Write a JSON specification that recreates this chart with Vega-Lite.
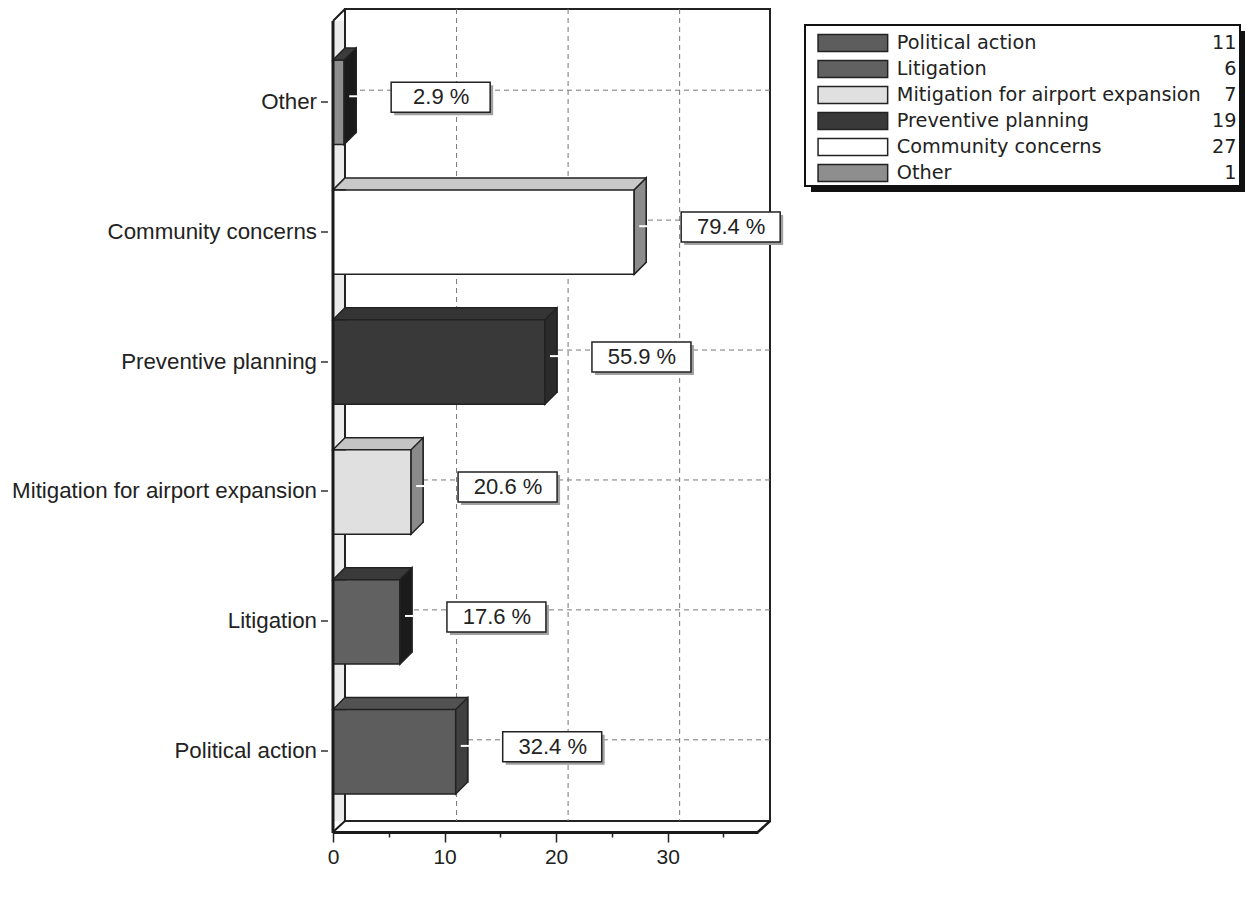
{
  "$schema": "https://vega.github.io/schema/vega-lite/v6.json",
  "background": "white",
  "padding": {"left": 0, "top": 4, "right": 0, "bottom": 0},
  "spacing": 20,
  "datasets": {
    "items": [
      {"category": "Political action", "count": 11, "pct": "32.4 %"},
      {"category": "Litigation", "count": 6, "pct": "17.6 %"},
      {"category": "Mitigation for airport expansion", "count": 7, "pct": "20.6 %"},
      {"category": "Preventive planning", "count": 19, "pct": "55.9 %"},
      {"category": "Community concerns", "count": 27, "pct": "79.4 %"},
      {"category": "Other", "count": 1, "pct": "2.9 %"}
    ]
  },
  "resolve": {"scale": {"x": "independent", "y": "independent", "fill": "independent"}},
  "config": {"view": {"stroke": null}, "font": "Liberation Sans"},
  "hconcat": [
    {
      "width": 425,
      "height": 812,
      "data": {"name": "items"},
      "resolve": {"scale": {"fill": "independent"}},
      "layer": [
        {
          "data": {"values": [{}]},
          "mark": {"type": "rect", "fill": "#ebebeb", "x2Offset": 12, "yOffset": 12, "opacity": 1},
          "encoding": {
            "x": {"datum": 0, "type": "quantitative", "scale": {"domain": [0, 38.1], "nice": false, "zero": true},
              "axis": {
                "values": [0, 2.5, 5, 7.5, 10, 12.5, 15, 17.5, 20, 22.5, 25, 27.5, 30, 32.5, 35, 37.5],
                "labelExpr": "datum.value % 10 === 0 ? datum.label : ''",
                "labelFlush": false,
                "tickSize": {"condition": {"test": "datum.value % 10 === 0", "value": 10}, "value": 5},
                "tickColor": "#222", "tickWidth": 1.5,
                "domainColor": "#1a1a1a", "domainWidth": 3, "offset": 11,
                "labelFontSize": 21, "labelColor": "#222", "labelFont": "Liberation Sans",
                "labelPadding": 4, "grid": false, "title": null, "zindex": 1
              }
            },
            "x2": {"datum": 0}
          }
        },
        {
          "data": {"values": [{}]},
          "mark": {"type": "rect", "fill": "white", "stroke": "#222", "strokeWidth": 2, "xOffset": 12, "x2Offset": 12, "opacity": 1},
          "encoding": {
            "x": {"datum": 0, "type": "quantitative"},
            "x2": {"datum": 38.1}
          }
        },
        {
          "data": {"values": [{"t": 10}, {"t": 20}, {"t": 30}]},
          "mark": {"type": "rule", "stroke": "#777", "strokeDash": [5, 4], "strokeWidth": 1, "xOffset": 12},
          "encoding": {
            "x": {"field": "t", "type": "quantitative", "title": null}
          }
        },
        {
          "mark": {"type": "rule", "stroke": "#777", "strokeDash": [5, 4], "strokeWidth": 1, "xOffset": 12, "x2Offset": 12},
          "encoding": {
            "y": {"field": "category", "type": "nominal", "title": null,
              "sort": ["Other", "Community concerns", "Preventive planning", "Mitigation for airport expansion", "Litigation", "Political action"],
              "scale": {"paddingInner": 0.35, "paddingOuter": 0.3},
              "axis": {
                "domain": true, "domainColor": "#1a1a1a", "domainWidth": 3,
                "offset": 12, "translate": 12,
                "tickSize": 12, "tickDash": [0, 5, 7, 0], "tickColor": "#333", "tickWidth": 1.5,
                "labelFontSize": 22.3, "labelColor": "#222", "labelFont": "Liberation Sans",
                "labelPadding": 4, "labelLimit": 0, "title": null, "zindex": 1
              }
            }
          }
        },
        {
          "mark": {"type": "bar", "stroke": "#222", "strokeWidth": 1.5, "xOffset": 12, "x2Offset": 12, "opacity": 1},
          "encoding": {
            "x": {"field": "count", "type": "quantitative", "title": null},
            "y": {"field": "category", "type": "nominal", "title": null,
              "sort": ["Other", "Community concerns", "Preventive planning", "Mitigation for airport expansion", "Litigation", "Political action"]},
            "fill": {"field": "category", "type": "nominal", "legend": null,
              "scale": {"domain": ["Political action", "Litigation", "Mitigation for airport expansion", "Preventive planning", "Community concerns", "Other"],
                "range": ["#525252", "#3a3a3a", "#c4c4c4", "#343434", "#c9c9c9", "#3c3c3c"]}}
          }
        },
        {
          "mark": {"type": "bar", "stroke": "#222", "strokeWidth": 1.5, "yOffset": 12, "opacity": 1},
          "encoding": {
            "x": {"field": "count", "type": "quantitative", "title": null},
            "y": {"field": "category", "type": "nominal", "title": null,
              "sort": ["Other", "Community concerns", "Preventive planning", "Mitigation for airport expansion", "Litigation", "Political action"]},
            "fill": {"field": "category", "type": "nominal", "legend": null,
              "scale": {"domain": ["Political action", "Litigation", "Mitigation for airport expansion", "Preventive planning", "Community concerns", "Other"],
                "range": ["#5d5d5d", "#616161", "#e0e0e0", "#393939", "#ffffff", "#8e8e8e"]}}
          }
        },
        {
          "mark": {"type": "point", "shape": "M0.31,-1L0,-1L0.284,-1.284L0.31,-1.284", "size": 7140, "filled": true, "stroke": "#222", "strokeWidth": 1.5, "yOffset": 12, "opacity": 1},
          "encoding": {
            "x": {"datum": 0, "type": "quantitative"},
            "y": {"field": "category", "type": "nominal", "title": null,
              "sort": ["Other", "Community concerns", "Preventive planning", "Mitigation for airport expansion", "Litigation", "Political action"]},
            "fill": {"field": "category", "type": "nominal", "legend": null,
              "scale": {"domain": ["Political action", "Litigation", "Mitigation for airport expansion", "Preventive planning", "Community concerns", "Other"],
                "range": ["#525252", "#3a3a3a", "#c4c4c4", "#343434", "#c9c9c9", "#3c3c3c"]}}
          }
        },
        {
          "mark": {"type": "point", "shape": "M0,-1L0.284,-1.284L0.284,0.716L0,1Z", "size": 7140, "filled": true, "stroke": "#222", "strokeWidth": 1.5, "yOffset": 12, "opacity": 1},
          "encoding": {
            "x": {"field": "count", "type": "quantitative", "title": null},
            "y": {"field": "category", "type": "nominal", "title": null,
              "sort": ["Other", "Community concerns", "Preventive planning", "Mitigation for airport expansion", "Litigation", "Political action"]},
            "fill": {"field": "category", "type": "nominal", "legend": null,
              "scale": {"domain": ["Political action", "Litigation", "Mitigation for airport expansion", "Preventive planning", "Community concerns", "Other"],
                "range": ["#404040", "#1b1b1b", "#8a8a8a", "#2b2b2b", "#8c8c8c", "#1b1b1b"]}}
          }
        },
        {
          "mark": {"type": "point", "shape": "M0.12,-0.14L0.32,-0.14", "size": 7140, "filled": false, "stroke": "white", "strokeWidth": 2, "yOffset": 12, "opacity": 1},
          "encoding": {
            "x": {"field": "count", "type": "quantitative", "title": null},
            "y": {"field": "category", "type": "nominal", "title": null,
              "sort": ["Other", "Community concerns", "Preventive planning", "Mitigation for airport expansion", "Litigation", "Political action"]}
          }
        },
        {
          "mark": {"type": "bar", "fill": "#a0a0a0", "height": 30, "xOffset": 50, "x2Offset": 149, "yOffset": 10, "opacity": 1},
          "encoding": {
            "x": {"field": "count", "type": "quantitative", "title": null},
            "x2": {"field": "count"},
            "y": {"field": "category", "type": "nominal", "title": null,
              "sort": ["Other", "Community concerns", "Preventive planning", "Mitigation for airport expansion", "Litigation", "Political action"]}
          }
        },
        {
          "mark": {"type": "bar", "fill": "white", "stroke": "#222", "strokeWidth": 1.5, "height": 30, "xOffset": 47, "x2Offset": 146, "yOffset": 7, "opacity": 1},
          "encoding": {
            "x": {"field": "count", "type": "quantitative", "title": null},
            "x2": {"field": "count"},
            "y": {"field": "category", "type": "nominal", "title": null,
              "sort": ["Other", "Community concerns", "Preventive planning", "Mitigation for airport expansion", "Litigation", "Political action"]}
          }
        },
        {
          "mark": {"type": "text", "align": "center", "baseline": "middle", "fontSize": 22, "font": "Liberation Sans", "fill": "#222", "xOffset": 97, "yOffset": 7},
          "encoding": {
            "x": {"field": "count", "type": "quantitative", "title": null},
            "y": {"field": "category", "type": "nominal", "title": null,
              "sort": ["Other", "Community concerns", "Preventive planning", "Mitigation for airport expansion", "Litigation", "Political action"]},
            "text": {"field": "pct"}
          }
        },
        {
          "data": {"values": [{}]},
          "mark": {"type": "point", "shape": "M0,-27L12,-39", "size": 4, "filled": false, "stroke": "#1a1a1a", "strokeWidth": 2, "opacity": 1},
          "encoding": {
            "x": {"datum": 0, "type": "quantitative"},
            "y": {"datum": "Other", "type": "nominal", "bandPosition": 0,
              "sort": ["Other", "Community concerns", "Preventive planning", "Mitigation for airport expansion", "Litigation", "Political action"]}
          }
        },
        {
          "data": {"values": [{}]},
          "mark": {"type": "point", "shape": "M0,50L12,39", "size": 4, "filled": false, "stroke": "#1a1a1a", "strokeWidth": 2, "opacity": 1},
          "encoding": {
            "x": {"datum": 0, "type": "quantitative"},
            "y": {"datum": "Political action", "type": "nominal", "bandPosition": 1,
              "sort": ["Other", "Community concerns", "Preventive planning", "Mitigation for airport expansion", "Litigation", "Political action"]}
          }
        },
        {
          "data": {"values": [{}]},
          "mark": {"type": "point", "shape": "M0,50L12,39", "size": 4, "filled": false, "stroke": "#1a1a1a", "strokeWidth": 2.5, "opacity": 1},
          "encoding": {
            "x": {"datum": 38.1, "type": "quantitative"},
            "y": {"datum": "Political action", "type": "nominal", "bandPosition": 1,
              "sort": ["Other", "Community concerns", "Preventive planning", "Mitigation for airport expansion", "Litigation", "Political action"]}
          }
        }
      ]
    },
    {
      "width": 435,
      "height": 198,
      "data": {"name": "items"},
      "layer": [
        {
          "data": {"values": [{}]},
          "mark": {"type": "rect", "fill": "#111", "xOffset": 6, "x2Offset": 6, "yOffset": -3.5, "y2Offset": 10.5, "opacity": 1},
          "encoding": {
            "x": {"datum": 0, "type": "quantitative", "scale": {"domain": [0, 100], "nice": false}, "axis": null},
            "x2": {"datum": 100},
            "y": {"datum": "Political action", "type": "nominal", "bandPosition": 0, "axis": null,
              "sort": ["Political action", "Litigation", "Mitigation for airport expansion", "Preventive planning", "Community concerns", "Other"],
              "scale": {"paddingInner": 0.35, "paddingOuter": 0.983}},
            "y2": {"datum": "Other", "bandPosition": 1}
          }
        },
        {
          "data": {"values": [{}]},
          "mark": {"type": "rect", "fill": "white", "stroke": "#111", "strokeWidth": 2, "yOffset": -9.5, "y2Offset": 4.5, "opacity": 1},
          "encoding": {
            "x": {"datum": 0, "type": "quantitative"},
            "x2": {"datum": 100},
            "y": {"datum": "Political action", "type": "nominal", "bandPosition": 0,
              "sort": ["Political action", "Litigation", "Mitigation for airport expansion", "Preventive planning", "Community concerns", "Other"]},
            "y2": {"datum": "Other", "bandPosition": 1}
          }
        },
        {
          "mark": {"type": "bar", "stroke": "#222", "strokeWidth": 1.5, "opacity": 1},
          "encoding": {
            "x": {"datum": 3, "type": "quantitative"},
            "x2": {"datum": 19},
            "y": {"field": "category", "type": "nominal",
              "sort": ["Political action", "Litigation", "Mitigation for airport expansion", "Preventive planning", "Community concerns", "Other"]},
            "fill": {"field": "category", "type": "nominal", "legend": null,
              "scale": {"domain": ["Political action", "Litigation", "Mitigation for airport expansion", "Preventive planning", "Community concerns", "Other"],
                "range": ["#5d5d5d", "#616161", "#e0e0e0", "#393939", "#ffffff", "#8e8e8e"]}}
          }
        },
        {
          "mark": {"type": "text", "align": "left", "baseline": "middle", "font": "DejaVu Sans", "fontSize": 19.3, "fill": "#222"},
          "encoding": {
            "x": {"datum": 21.1, "type": "quantitative"},
            "y": {"field": "category", "type": "nominal",
              "sort": ["Political action", "Litigation", "Mitigation for airport expansion", "Preventive planning", "Community concerns", "Other"]},
            "text": {"field": "category"}
          }
        },
        {
          "mark": {"type": "text", "align": "right", "baseline": "middle", "font": "DejaVu Sans", "fontSize": 19.3, "fill": "#222"},
          "encoding": {
            "x": {"datum": 99.2, "type": "quantitative"},
            "y": {"field": "category", "type": "nominal",
              "sort": ["Political action", "Litigation", "Mitigation for airport expansion", "Preventive planning", "Community concerns", "Other"]},
            "text": {"field": "count"}
          }
        }
      ]
    }
  ]
}
